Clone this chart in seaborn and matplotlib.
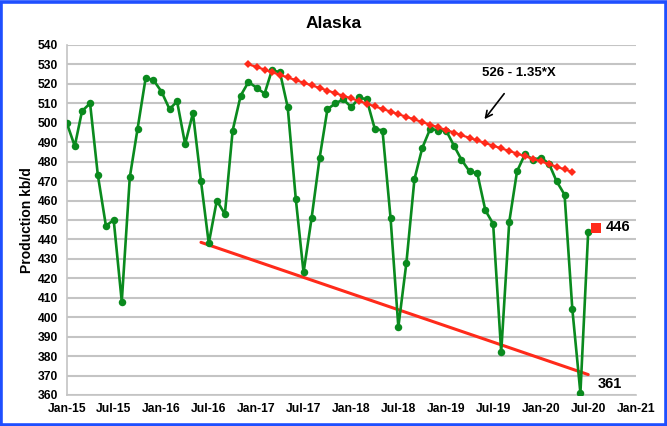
import numpy as np
import pandas as pd
import matplotlib
matplotlib.use('Agg')
import matplotlib.pyplot as plt
import matplotlib.dates as mdates
from matplotlib.patches import Rectangle
import seaborn as sns

# ---------------- data ----------------
start_month = '2015-01-01'
production = [
    500, 488, 506, 510, 473, 447, 450, 408, 472, 497, 523, 522,   # 2015
    516, 507, 511, 489, 505, 470, 438, 460, 453, 496, 514, 521,   # 2016
    518, 515, 527, 526, 508, 461, 423, 451, 482, 507, 510, 512,   # 2017
    508, 513, 512, 497, 496, 451, 395, 428, 471, 487, 497, 496,   # 2018
    496, 488, 481, 475, 474, 455, 448, 382, 449, 475, 484, 481,   # 2019
    482, 479, 470, 463, 404, 361, 444,                            # 2020
]

# decline trend shown on chart: 526 - 1.35*X  (X = 0 at Mar-17)
trend_start = '2016-12-01'
trend_end = '2020-05-01'
trend_intercept = 526
trend_slope = -1.35
trend_x_first = -3

# lower support line end points
support_dates = ['2016-06-01', '2020-07-01']
support_values = [438.5, 370.5]

# estimate point
estimate_dates = ['2020-08-01']
estimate_values = [446]

ytick_values = list(range(360, 541, 10))
xtick_labels = ['Jan-15', 'Jul-15', 'Jan-16', 'Jul-16', 'Jan-17', 'Jul-17',
                'Jan-18', 'Jul-18', 'Jan-19', 'Jul-19', 'Jan-20', 'Jul-20', 'Jan-21']

title = 'Alaska'
ylabel = 'Production kb/d'
trend_label = '526 - 1.35*X'

# ---------------- frames ----------------
dates = pd.date_range(start_month, periods=len(production), freq='MS')
df = pd.DataFrame({'date': dates, 'kbd': production})

trend_dates = pd.date_range(trend_start, trend_end, freq='MS')
trend_X = np.arange(trend_x_first, trend_x_first + len(trend_dates))
df_trend = pd.DataFrame({'date': trend_dates,
                         'kbd': trend_intercept + trend_slope * trend_X})
df_support = pd.DataFrame({'date': pd.to_datetime(support_dates), 'kbd': support_values})
df_est = pd.DataFrame({'date': pd.to_datetime(estimate_dates), 'kbd': estimate_values})

# ---------------- style ----------------
sns.set_theme(style='white')
plt.rcParams['font.family'] = ['Liberation Sans', 'DejaVu Sans']
plt.rcParams['font.weight'] = 'bold'
plt.rcParams['text.color'] = 'black'

fig = plt.figure(figsize=(6.67, 4.26), dpi=100)
ax = fig.add_axes([0.100, 0.0728, 0.8535, 0.8216])

GREEN = '#0a8a1e'
RED = '#ff2a1a'
GRID = '#c4c4c4'

sns.lineplot(data=df_support, x='date', y='kbd', ax=ax, color=RED,
             linewidth=2.2, zorder=3)
sns.lineplot(data=df, x='date', y='kbd', ax=ax, color=GREEN, linewidth=1.9,
             marker='o', markersize=5.4, markeredgewidth=0, zorder=4)
sns.lineplot(data=df_trend, x='date', y='kbd', ax=ax, color=RED, linewidth=1.6,
             marker='D', markersize=3.6, markeredgewidth=0, zorder=5)
sns.scatterplot(data=df_est, x='date', y='kbd', ax=ax, color=RED, marker='s',
                s=48, linewidth=0, zorder=6)

# axes
ax.set_ylim(360, 540)
ax.set_xlim(pd.Timestamp('2015-01-01'), pd.Timestamp('2021-01-01'))
ax.set_yticks(ytick_values)
ax.set_yticklabels([str(v) for v in ytick_values])
xt = pd.date_range('2015-01-01', '2021-01-01', freq='6MS')
ax.set_xticks(xt)
ax.set_xticklabels(xtick_labels)
ax.set_xlabel('')
ax.set_ylabel('')
ax.tick_params(axis='both', labelsize=8.7, labelcolor='black', length=4,
               width=1, direction='out', pad=2, color=GRID)
for lbl in ax.get_xticklabels() + ax.get_yticklabels():
    lbl.set_fontweight('bold')
ax.yaxis.grid(True, color=GRID, linewidth=1.5)
ax.xaxis.grid(False)
ax.set_axisbelow(True)
for s in ['top', 'right']:
    ax.spines[s].set_visible(False)
for s in ['left', 'bottom']:
    ax.spines[s].set_color(GRID)
    ax.spines[s].set_linewidth(1.2)

# texts
fig.text(0.5, 1 - 23 / 426, title, ha='center', va='center', fontsize=12.5,
         fontweight='bold', color='black')
fig.text(27 / 667, 1 - 220 / 426, ylabel, ha='center', va='center',
         rotation=90, fontsize=10, fontweight='bold', color='black')

d = lambda s: mdates.date2num(pd.Timestamp(s))
ax.text(d('2019-10-10'), 525.5, trend_label, ha='center', va='center',
        fontsize=9.5, fontweight='bold', color='black')
ax.annotate('', xy=(d('2019-05-22'), 500.7), xytext=(d('2019-08-19'), 516.1),
            arrowprops=dict(arrowstyle='->', color='black', lw=1.2))
ax.text(d('2020-09-07'), 446.5, '446', ha='left', va='center', fontsize=10.5,
        fontweight='bold', color='black')
ax.text(d('2020-08-07'), 365.6, '361', ha='left', va='center', fontsize=10.5,
        fontweight='bold', color='black')

# blue frame
fig.patches.append(Rectangle((1.5 / 667, 1.5 / 426), 1 - 3 / 667, 1 - 3 / 426,
                             transform=fig.transFigure, fill=False,
                             edgecolor='#1f4fff', linewidth=2.6))

fig.savefig('out.png', dpi=100)
